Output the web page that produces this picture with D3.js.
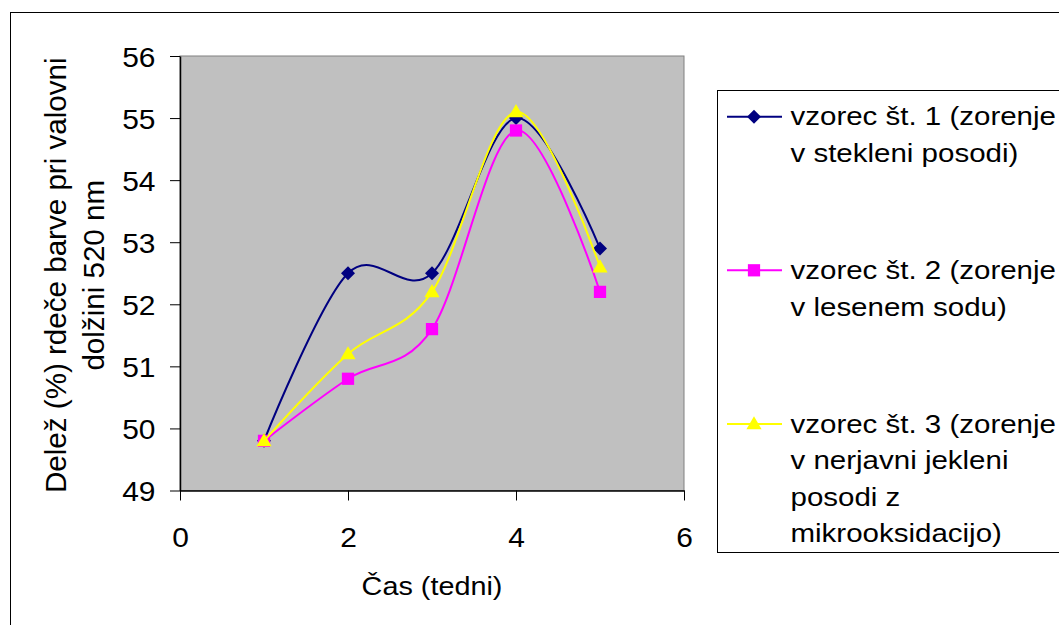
<!DOCTYPE html>
<html>
<head>
<meta charset="utf-8">
<script src="https://cdn.jsdelivr.net/npm/d3@7/dist/d3.min.js"></script>
<style>
  html, body { margin: 0; padding: 0; background: #fff; }
  svg { display: block; font-family: "Liberation Sans", Arial, sans-serif; }
</style>
</head>
<body>
<svg id="chart" width="1059" height="625"></svg>
<script>
// Weeks of maturation
const weeks = [1, 2, 3, 4, 5];

// Share (%) of red colour at 520 nm for each sample
const sample1 = [49.8, 52.5, 52.5, 55.0, 52.9];
const sample2 = [49.8, 50.8, 51.6, 54.8, 52.2];
const sample3 = [49.8, 51.2, 52.2, 55.1, 52.6];

const seriesNames = [
  ["vzorec št. 1 (zorenje", "v stekleni posodi)"],
  ["vzorec št. 2 (zorenje", "v lesenem sodu)"],
  ["vzorec št. 3 (zorenje", "v nerjavni jekleni", "posodi z", "mikrooksidacijo)"]
];

const xTicks = [0, 2, 4, 6];
const yTicks = [49, 50, 51, 52, 53, 54, 55, 56];

const xTitle = "Čas (tedni)";
const yTitle = ["Delež (%) rdeče barve pri valovni", "dolžini 520 nm"];

const seriesValues = [sample1, sample2, sample3];
const colors = ["#000080", "#FF00FF", "#FFFF00"];
const symbols = ["diamond", "square", "triangle"];

const svg = d3.select("#chart");

// Outer chart frame
svg.append("rect")
  .attr("x", 10.5).attr("y", 12.5)
  .attr("width", 1200).attr("height", 800)
  .attr("fill", "#fff").attr("stroke", "#000").attr("stroke-width", 1);

const plot = { left: 180, right: 684, top: 56, bottom: 490.5 };

const x = d3.scaleLinear().domain([0, 6]).range([plot.left, plot.right]);
const y = d3.scaleLinear().domain([49, 56]).range([plot.bottom, plot.top]);

// Plot area
svg.append("rect")
  .attr("x", plot.left).attr("y", plot.top)
  .attr("width", plot.right - plot.left).attr("height", plot.bottom - plot.top)
  .attr("fill", "#C0C0C0").attr("stroke", "#808080").attr("stroke-width", 1);

// Axes
const tickSX = 1.07;
const yAxis = svg.append("g")
  .attr("transform", `translate(${plot.left},0)`)
  .call(d3.axisLeft(y).tickValues(yTicks).tickSize(10).tickSizeOuter(0).tickFormat(d3.format("d")));
const xAxis = svg.append("g")
  .attr("transform", `translate(0,${plot.bottom})`)
  .call(d3.axisBottom(x).tickValues(xTicks).tickSize(10).tickSizeOuter(0).tickFormat(d3.format("d")));

[xAxis, yAxis].forEach(a => {
  a.select(".domain").attr("stroke", "#000").attr("stroke-width", 1.5);
  a.selectAll(".tick line").attr("stroke", "#000").attr("stroke-width", 1);
  a.selectAll(".tick text")
    .attr("fill", "#000")
    .style("font-size", "28px")
    .style("font-family", "'Liberation Sans', Arial, sans-serif");
});
yAxis.selectAll(".tick text")
  .attr("x", -24.5 / tickSX).attr("dy", "0.36em")
  .attr("transform", `scale(${tickSX},1)`);
xAxis.selectAll(".tick text")
  .attr("y", 0).attr("dy", 57)
  .attr("transform", `scale(${tickSX},1)`);

// Series lines and markers
const line = d3.line()
  .x((d, i) => x(weeks[i]))
  .y(d => y(d))
  .curve(d3.curveCardinal.tension(0));

function markerPath(kind) {
  if (kind === "diamond") return d3.symbol().type(d3.symbolSquare).size(98)();
  if (kind === "square") return d3.symbol().type(d3.symbolSquare).size(150)();
  return d3.symbol().type(d3.symbolTriangle).size(100)();
}
function markerTransform(kind, px, py) {
  if (kind === "diamond") return `translate(${px},${py}) rotate(45)`;
  if (kind === "triangle") return `translate(${px},${py + 1})`;
  return `translate(${px},${py})`;
}

seriesValues.forEach((vals, s) => {
  const g = svg.append("g");
  g.append("path")
    .attr("d", line(vals))
    .attr("fill", "none")
    .attr("stroke", colors[s])
    .attr("stroke-width", 2);
  g.selectAll("path.mk")
    .data(vals)
    .join("path")
    .attr("class", "mk")
    .attr("d", markerPath(symbols[s]))
    .attr("transform", (d, i) => markerTransform(symbols[s], x(weeks[i]), y(d)))
    .attr("fill", colors[s]);
});

// Axis titles
svg.append("text")
  .attr("transform", `translate(${(plot.left + plot.right) / 2},595) scale(1.13,1)`)
  .attr("text-anchor", "middle")
  .style("font-size", "25.5px")
  .text(xTitle);

const yMid = (plot.top + plot.bottom) / 2 + 2;
yTitle.forEach((t, i) => {
  svg.append("text")
    .attr("transform", `translate(${66 + i * 38},${yMid}) rotate(-90) scale(1.02,1)`)
    .attr("text-anchor", "middle")
    .style("font-size", "29px")
    .text(t);
});

// Legend
const legend = { left: 717.5, top: 90.5, bottom: 552.5 };
svg.append("rect")
  .attr("x", legend.left).attr("y", legend.top)
  .attr("width", 600).attr("height", legend.bottom - legend.top)
  .attr("fill", "#fff").attr("stroke", "#000").attr("stroke-width", 1);

seriesNames.forEach((lines, s) => {
  const ly = 116.7 + s * 153.6;
  const g = svg.append("g");
  g.append("line")
    .attr("x1", 727).attr("x2", 782)
    .attr("y1", ly).attr("y2", ly)
    .attr("stroke", colors[s]).attr("stroke-width", 2);
  g.append("path")
    .attr("d", markerPath(symbols[s]))
    .attr("transform", markerTransform(symbols[s], 754, ly))
    .attr("fill", colors[s]);
  lines.forEach((t, k) => {
    g.append("text")
      .attr("transform", `translate(790.5,${ly + 8.7 + k * 36.5}) scale(1.18,1)`)
      .style("font-size", "25px")
      .text(t);
  });
});
</script>
</body>
</html>
